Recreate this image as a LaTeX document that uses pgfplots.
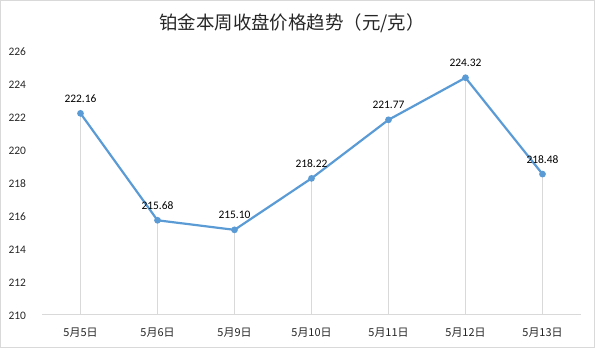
\documentclass[border=0pt]{standalone}
\usepackage{fontspec}
\setmainfont{Carlito}
\newfontfamily\cjk{Noto Sans CJK SC}
\newfontfamily\cjklight{Noto Sans CJK SC Light}
\usepackage{pgfplots}
\pgfplotsset{compat=1.18}
\definecolor{lineblue}{HTML}{5B9BD5}
\definecolor{gridgray}{HTML}{D9D9D9}
\definecolor{txt}{HTML}{262626}
\begin{document}
\begin{tikzpicture}[x=1bp,y=1bp]
\useasboundingbox (0,0) rectangle (595,348);
\draw[gridgray,line width=1bp] (0.5,0.5) rectangle (594.5,347.5);
\node[font=\cjk\fontsize{18.5}{20}\selectfont,text=txt] at (292,325) {铂金本周收盘价格趋势（元/克）};
\begin{axis}[
  name=ax,
  at={(42bp,34bp)}, anchor=south west,
  scale only axis, width=539bp, height=264bp,
  xmin=-0.5, xmax=6.5, ymin=210, ymax=226,
  ytick={210,212,...,226},
  xtick={0,...,6},
  xticklabels={5月5日,5月6日,5月9日,5月10日,5月11日,5月12日,5月13日},
  xticklabel style={font=\cjk\fontsize{11}{12}\selectfont,text=txt,yshift=-10bp},
  yticklabel style={font=\fontsize{11.5}{12}\selectfont,text=txt,anchor=west,xshift=-37bp,yshift=-2bp},
  /pgf/number format/assume math mode=true,
  axis x line*=bottom,
  separate axis lines,
  x axis line style={draw=gridgray,line width=1bp,-},
  y axis line style={draw=none},
  major tick length=0pt,
  clip=false,
]
\addplot[gridgray,line width=0.8bp,ycomb,no marks,forget plot] coordinates {
  (0,222.16) (1,215.68) (2,215.10) (3,218.22) (4,221.77) (5,224.32) (6,218.48)};
\addplot[lineblue,line width=2.2bp,mark=*,mark size=2.2bp,
  nodes near coords={\pgfmathprintnumber[fixed,fixed zerofill,precision=2]{\pgfplotspointmeta}},
  nodes near coords style={font=\fontsize{11.5}{12}\selectfont,text=black,anchor=base,yshift=11bp},
  point meta=explicit symbolic] coordinates {
  (0,222.16) [222.16] (1,215.68) [215.68] (2,215.10) [215.10] (3,218.22) [218.22] (4,221.77) [221.77] (5,224.32) [224.32] (6,218.48) [218.48]};
\end{axis}
\end{tikzpicture}
\end{document}
